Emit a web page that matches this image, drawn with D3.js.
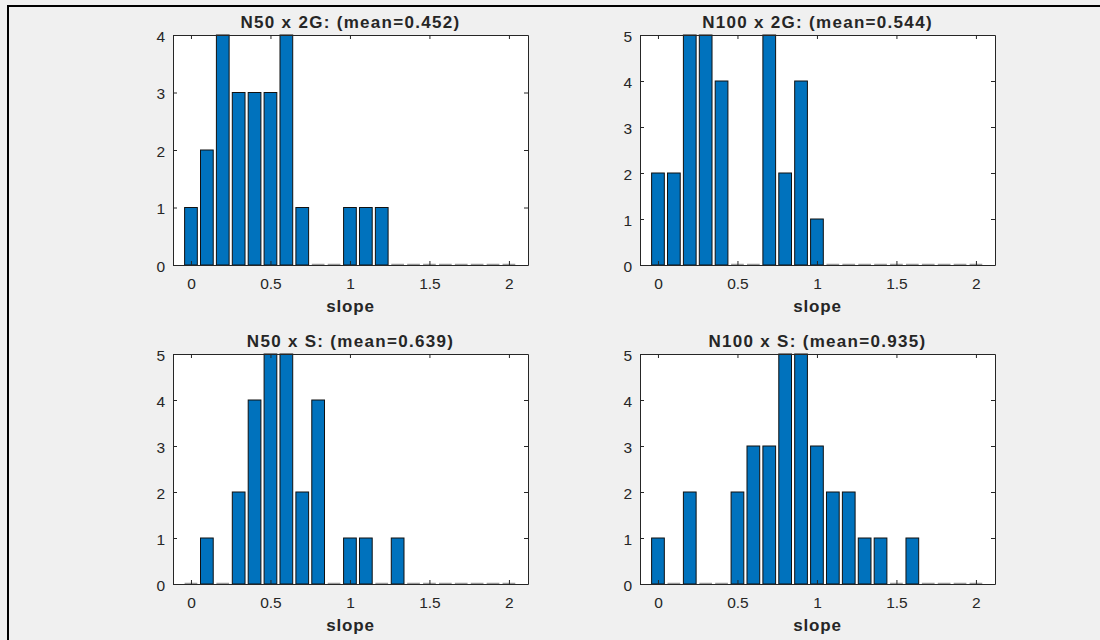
<!DOCTYPE html>
<html>
<head>
<meta charset="utf-8">
<script src="https://cdn.jsdelivr.net/npm/d3@7"></script>
<style>
  body { margin: 0; background: #f0f0f0; }
  text { font-family: "Liberation Sans", Arial, sans-serif; fill: #262626; }
</style>
</head>
<body>
<div id="fig"></div>
<script>
// bin centres shared by all four histograms
var bins = [0,0.1,0.2,0.3,0.4,0.5,0.6,0.7,0.8,0.9,1,1.1,1.2,1.3,1.4,1.5,1.6,1.7,1.8,1.9,2]
var xTicks = [0,0.5,1,1.5,2]

var titles = ["N50 x 2G: (mean=0.452)", "N100 x 2G: (mean=0.544)",
              "N50 x S: (mean=0.639)", "N100 x S: (mean=0.935)"]
var yMaxes = [4, 5, 5, 5]

var countsN50x2G  = [1,2,4,3,3,3,4,1,0,0,1,1,1,0,0,0,0,0,0,0,0]
var countsN100x2G = [2,2,5,5,4,0,0,5,2,4,1,0,0,0,0,0,0,0,0,0,0]
var countsN50xS   = [0,1,0,2,4,5,5,2,4,0,1,1,0,1,0,0,0,0,0,0,0]
var countsN100xS  = [1,0,2,0,0,2,3,3,5,5,3,2,2,1,1,0,1,0,0,0,0]
var allCounts = [countsN50x2G, countsN100x2G, countsN50xS, countsN100xS]

var svgw = 1100
var svgh = 640
var barColor = '#0072BD'
var halfBar = 0.04

// axes boxes in pixels: [left, top]
var axW = 355
var axH = 230
var origins = [[173,35],[640,35],[173,354],[640,354]]

var svg = d3.select('#fig').append('svg')
    .attr('width', svgw)
    .attr('height', svgh)

// figure border (top + left only visible)
svg.append('line').attr('x1',7).attr('x2',svgw).attr('y1',6).attr('y2',6)
   .attr('stroke','#000').attr('stroke-width',2)
svg.append('line').attr('x1',8).attr('x2',8).attr('y1',5).attr('y2',svgh)
   .attr('stroke','#000').attr('stroke-width',2)

function drawPanel(k){
  var counts = allCounts[k]
  var o = origins[k]
  var g = svg.append('g').attr('transform','translate(' + o[0] + ',' + o[1] + ')')

  var x = d3.scaleLinear().domain([-0.113, 2.12]).range([0, axW])
  var y = d3.scaleLinear().domain([0, yMaxes[k]]).range([axH, 0])

  g.append('rect')
    .attr('width', axW).attr('height', axH)
    .attr('fill', '#fff')

  var data = bins.map(function(b,i){ return {c: b, n: counts[i]} })

  g.selectAll('rect.bar')
    .data(data.filter(function(d){ return d.n > 0 }))
    .enter()
    .append('rect')
    .attr('class','bar')
    .attr('x', function(d){ return x(d.c - halfBar) })
    .attr('width', function(d){ return x(d.c + halfBar) - x(d.c - halfBar) })
    .attr('y', function(d){ return y(d.n) })
    .attr('height', function(d){ return y(0) - y(d.n) })
    .attr('fill', barColor)
    .attr('stroke', '#111')
    .attr('stroke-width', 1)

  // empty bins only show their edge along the baseline
  g.selectAll('line.zero')
    .data(data.filter(function(d){ return d.n == 0 }))
    .enter()
    .append('line')
    .attr('class','zero')
    .attr('x1', function(d){ return x(d.c - halfBar) })
    .attr('x2', function(d){ return x(d.c + halfBar) })
    .attr('y1', axH - 0.5).attr('y2', axH - 0.5)
    .attr('stroke', '#9a9a9a')
    .attr('stroke-width', 1.5)

  var yTicks = d3.range(0, yMaxes[k] + 1)

  g.append('g')
    .attr('transform','translate(0,' + axH + ')')
    .call(d3.axisBottom(x).tickValues(xTicks).tickFormat(d3.format('')).tickSizeInner(-4).tickSizeOuter(0).tickPadding(13))
  g.append('g')
    .call(d3.axisTop(x).tickValues(xTicks).tickFormat('').tickSizeInner(-4).tickSizeOuter(0))
  var yAx = g.append('g')
    .call(d3.axisLeft(y).tickValues(yTicks).tickFormat(d3.format('d')).tickSizeInner(-4).tickSizeOuter(0).tickPadding(8))
  yAx.selectAll('.tick text').attr('dy','0.4em')
  g.append('g')
    .attr('transform','translate(' + axW + ',0)')
    .call(d3.axisRight(y).tickValues(yTicks).tickFormat('').tickSizeInner(-4).tickSizeOuter(0))

  g.selectAll('.domain, .tick line').attr('stroke','#262626')
  g.selectAll('.tick text')
    .attr('font-family','"Liberation Sans", Arial, sans-serif')
    .attr('font-size', 15.5)
    .attr('fill','#262626')

  g.append('text')
    .attr('x', axW/2).attr('y', -7)
    .attr('text-anchor','middle')
    .attr('font-size', 17)
    .attr('font-weight','bold')
    .attr('letter-spacing', 1.3)
    .text(titles[k])

  g.append('text')
    .attr('x', axW/2).attr('y', axH + 47)
    .attr('text-anchor','middle')
    .attr('font-size', 17)
    .attr('font-weight','bold')
    .attr('letter-spacing', 0.8)
    .text('slope')
}

for (var k = 0; k < 4; k++){
  drawPanel(k)
}
</script>
</body>
</html>
